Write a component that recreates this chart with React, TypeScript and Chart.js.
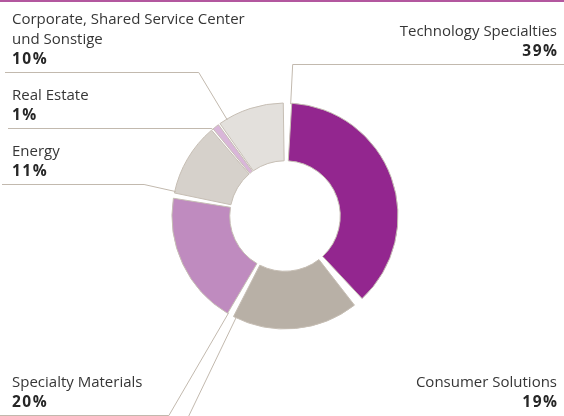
import React, { useEffect, useRef } from 'react';
import { Chart, registerables } from 'chart.js';

Chart.register(...registerables);

// ---- data ----
const segments = [
  'Technology Specialties',
  'Consumer Solutions',
  'Specialty Materials',
  'Energy',
  'Real Estate',
  'Corporate, Shared Service Center und Sonstige',
];
const labelLines = [
  ['Technology Specialties'],
  ['Consumer Solutions'],
  ['Specialty Materials'],
  ['Energy'],
  ['Real Estate'],
  ['Corporate, Shared Service Center', 'und Sonstige'],
];
const shares = [39, 19, 20, 11, 1, 10];
const percentLabels = ['39%', '19%', '20%', '11%', '1%', '10%'];
const colors = ['#93268f', '#b8b0a6', '#bf8bbf', '#d6d1cb', '#d9b6d9', '#e3e0dc'];

// ---- label layout ----
const leaderAngle = [2.9, 205.7, 210.2, 282.6, 320.1, 329]; // degrees clockwise from top
const lineY = [64, 430, 415, 184, 128, 72];
const lineEndX = [564, 564, 0, 2, 8, 5];
const textSide = ['right', 'right', 'left', 'left', 'left', 'left'];
const percentBaseline = [56, 407, 407, 176, 120, 64];

const FONT = '"Open Sans", "Noto Sans", sans-serif';

const labelPlugin = {
  id: 'segmentLabels',
  afterDatasetsDraw(chart: any) {
    const ctx = chart.ctx as any;
    const meta = chart.getDatasetMeta(0);
    ctx.save();
    // top rule
    ctx.strokeStyle = '#b3579f';
    ctx.lineWidth = 2;
    ctx.beginPath();
    ctx.moveTo(0, 1);
    ctx.lineTo(chart.width, 1);
    ctx.stroke();

    meta.data.forEach((arc: any, i: number) => {
      const { x, y, outerRadius } = arc.getProps(['x', 'y', 'outerRadius'], true);
      const r = outerRadius + 3;
      const a = ((leaderAngle[i] - 90) * Math.PI) / 180;
      const ax = x + r * Math.cos(a);
      const ay = y + r * Math.sin(a);
      const ly = lineY[i] + 0.5;
      const t = (ly - ay) / Math.sin(a);
      const ex = ax + t * Math.cos(a);
      ctx.strokeStyle = '#c2b9ae';
      ctx.lineWidth = 1;
      ctx.beginPath();
      ctx.moveTo(ax, ay);
      ctx.lineTo(ex, ly);
      ctx.lineTo(lineEndX[i], ly);
      ctx.stroke();

      const right = textSide[i] === 'right';
      const tx = right ? 557 : 12;
      ctx.textAlign = right ? 'right' : 'left';
      ctx.textBaseline = 'alphabetic';
      const pb = percentBaseline[i];
      const lines = labelLines[i];
      ctx.fillStyle = '#363636';
      ctx.font = `15px ${FONT}`;
      ctx.letterSpacing = '0px';
      lines.forEach((ln, j) => {
        ctx.fillText(ln, tx, pb - 20 * (lines.length - j));
      });
      ctx.fillStyle = '#262626';
      ctx.font = `bold 15.5px ${FONT}`;
      ctx.letterSpacing = '1.5px';
      ctx.fillText(percentLabels[i], right ? tx + 1.5 : tx, pb);
      ctx.letterSpacing = '0px';
    });
    ctx.restore();
  },
};

export default function App() {
  const ref = useRef<HTMLCanvasElement>(null);
  useEffect(() => {
    if (!ref.current) return;
    const chart = new Chart(ref.current, {
      type: 'doughnut',
      data: {
        labels: segments,
        datasets: [
          {
            data: shares,
            backgroundColor: colors,
            borderColor: '#c6beb4',
            borderWidth: 1,
            spacing: 8,
          },
        ],
      },
      options: {
        responsive: false,
        animation: false,
        devicePixelRatio: 1,
        cutout: '47%',
        radius: 109,
        layout: { padding: { left: 6, right: 0, top: 16, bottom: 0 } },
        plugins: { legend: { display: false }, tooltip: { enabled: false } },
        events: [],
      },
      plugins: [labelPlugin],
    });
    return () => chart.destroy();
  }, []);
  return (
    <div style={{ position: 'absolute', left: 0, top: 0, width: 564, height: 416, background: '#fff' }}>
      <canvas ref={ref} width={564} height={416} />
    </div>
  );
}
